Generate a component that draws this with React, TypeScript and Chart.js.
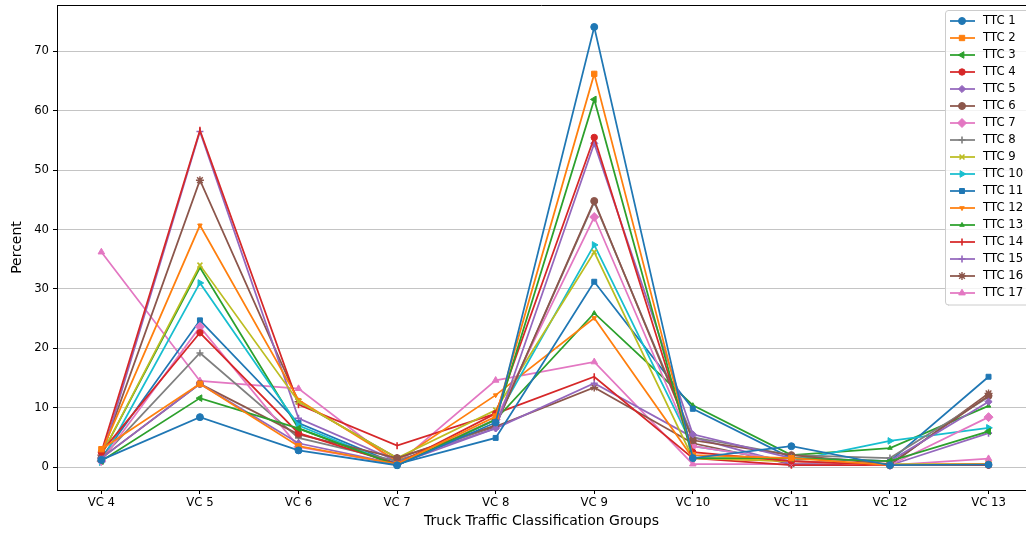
import React, { useEffect, useRef } from 'react';
import { Chart, registerables } from 'chart.js';
import { drawPoint } from 'chart.js/helpers';

Chart.register(...registerables);

// Vehicle class groups on the x axis
const groups = ['VC 4', 'VC 5', 'VC 6', 'VC 7', 'VC 8', 'VC 9', 'VC 10', 'VC 11', 'VC 12', 'VC 13'];

// Percent of trucks per vehicle class, one array per truck traffic classification
const ttc1 = [1.2, 8.4, 2.8, 0.3, 7.5, 74.1, 1.5, 3.5, 0.3, 0.4];
const ttc2 = [3.0, 14.0, 3.5, 0.5, 8.5, 66.2, 2.0, 1.5, 0.3, 0.5];
const ttc3 = [1.0, 11.6, 6.5, 0.3, 8.0, 61.9, 1.5, 1.5, 1.0, 6.0];
const ttc4 = [2.5, 22.6, 5.7, 0.5, 9.0, 55.5, 2.5, 1.0, 0.3, 0.3];
const ttc5 = [1.5, 14.0, 4.0, 0.5, 6.5, 54.5, 5.5, 1.5, 1.0, 11.0];
const ttc6 = [1.5, 14.0, 5.5, 1.5, 7.0, 44.8, 4.5, 2.0, 0.5, 12.0];
const ttc7 = [1.0, 23.6, 3.4, 0.5, 8.0, 42.1, 3.5, 1.0, 0.3, 8.4];
const ttc8 = [1.5, 19.2, 4.9, 1.0, 7.0, 44.6, 5.0, 2.0, 1.5, 11.8];
const ttc9 = [2.0, 34.0, 11.0, 1.5, 9.6, 36.2, 1.5, 1.0, 0.5, 0.5];
const ttc10 = [0.8, 31.0, 7.0, 0.3, 8.0, 37.4, 3.5, 1.0, 4.4, 6.6];
const ttc11 = [1.5, 24.7, 7.4, 0.5, 4.9, 31.2, 9.8, 1.5, 1.0, 15.2];
const ttc12 = [2.5, 40.7, 11.3, 1.0, 12.1, 25.1, 1.5, 1.0, 0.3, 0.5];
const ttc13 = [2.0, 33.6, 6.5, 0.3, 8.0, 25.9, 10.4, 2.0, 3.2, 10.3];
const ttc14 = [2.5, 56.7, 10.5, 3.6, 9.0, 15.2, 1.5, 0.3, 0.3, 0.3];
const ttc15 = [1.5, 56.5, 8.2, 1.0, 6.5, 14.1, 5.0, 0.5, 0.3, 5.7];
const ttc16 = [2.0, 48.3, 11.0, 1.5, 6.8, 13.4, 4.0, 0.5, 0.3, 12.4];
const ttc17 = [36.2, 14.5, 13.2, 0.5, 14.6, 17.7, 0.5, 0.5, 0.3, 1.4];

const seriesNames = [
  'TTC 1', 'TTC 2', 'TTC 3', 'TTC 4', 'TTC 5', 'TTC 6', 'TTC 7', 'TTC 8', 'TTC 9',
  'TTC 10', 'TTC 11', 'TTC 12', 'TTC 13', 'TTC 14', 'TTC 15', 'TTC 16', 'TTC 17',
];
const seriesValues = [
  ttc1, ttc2, ttc3, ttc4, ttc5, ttc6, ttc7, ttc8, ttc9,
  ttc10, ttc11, ttc12, ttc13, ttc14, ttc15, ttc16, ttc17,
];

const yTicks = [0, 10, 20, 30, 40, 50, 60, 70];

const palette = [
  '#1f77b4', '#ff7f0e', '#2ca02c', '#d62728', '#9467bd', '#8c564b', '#e377c2',
  '#7f7f7f', '#bcbd22', '#17becf',
];

type Marker = { style: string; radius: number; rotation: number; border: number };
const markers: Marker[] = [
  { style: 'circle', radius: 3.5, rotation: 0, border: 1 },
  { style: 'rect', radius: 3.8, rotation: 0, border: 1 },
  { style: 'triangle', radius: 3.8, rotation: -90, border: 1 },
  { style: 'circle', radius: 3.2, rotation: 0, border: 1 },
  { style: 'rectRot', radius: 3.6, rotation: 0, border: 1 },
  { style: 'circle', radius: 3.5, rotation: 0, border: 1 },
  { style: 'rectRot', radius: 4.5, rotation: 0, border: 1 },
  { style: 'cross', radius: 3.5, rotation: 0, border: 1.6 },
  { style: 'crossRot', radius: 3.5, rotation: 0, border: 1.6 },
  { style: 'triangle', radius: 3.8, rotation: 90, border: 1 },
  { style: 'rect', radius: 3.5, rotation: 0, border: 1 },
  { style: 'triangle', radius: 2.6, rotation: 180, border: 1 },
  { style: 'triangle', radius: 2.6, rotation: 0, border: 1 },
  { style: 'line', radius: 3.5, rotation: 90, border: 1.6 },
  { style: 'cross', radius: 3.5, rotation: 0, border: 1.6 },
  { style: 'star', radius: 4, rotation: 0, border: 1.4 },
  { style: 'triangle', radius: 3.8, rotation: 0, border: 1 },
];

const FONT = '"DejaVu Sans", sans-serif';

// Legend box in the upper right corner plus the top frame line
const framePlugin = {
  id: 'frameAndLegend',
  afterDatasetsDraw(chart: any) {
    const { ctx, chartArea } = chart;
    ctx.save();
    ctx.strokeStyle = '#000';
    ctx.lineWidth = 1;
    ctx.beginPath();
    ctx.moveTo(chartArea.left, chartArea.top + 0.5);
    ctx.lineTo(chartArea.right, chartArea.top + 0.5);
    ctx.stroke();

    const bx = chartArea.right - 81;
    const by = chartArea.top + 5;
    const bw = 90;
    const rowH = 17;
    const n = chart.data.datasets.length;
    const bh = n * rowH + 6;
    ctx.fillStyle = 'rgba(255,255,255,0.8)';
    ctx.strokeStyle = '#cccccc';
    ctx.beginPath();
    const r = 3;
    ctx.moveTo(bx + r, by + 0.5);
    ctx.lineTo(bx + bw, by + 0.5);
    ctx.lineTo(bx + bw, by + bh);
    ctx.lineTo(bx + r, by + bh);
    ctx.arcTo(bx + 0.5, by + bh, bx + 0.5, by + bh - r, r);
    ctx.lineTo(bx + 0.5, by + r);
    ctx.arcTo(bx + 0.5, by + 0.5, bx + r, by + 0.5, r);
    ctx.closePath();
    ctx.fill();
    ctx.stroke();

    chart.data.datasets.forEach((ds: any, i: number) => {
      const y = by + 11 + rowH * i;
      ctx.strokeStyle = ds.borderColor;
      ctx.lineWidth = ds.borderWidth;
      ctx.beginPath();
      ctx.moveTo(bx + 5, y);
      ctx.lineTo(bx + 30, y);
      ctx.stroke();
      ctx.fillStyle = ds.pointBackgroundColor;
      ctx.strokeStyle = ds.pointBorderColor;
      ctx.lineWidth = ds.pointBorderWidth;
      drawPoint(
        ctx,
        {
          pointStyle: ds.pointStyle,
          radius: ds.pointRadius,
          rotation: ds.pointRotation,
          borderWidth: ds.pointBorderWidth,
        },
        bx + 17,
        y
      );
      ctx.fillStyle = '#000';
      ctx.font = `11.7px ${FONT}`;
      ctx.textBaseline = 'middle';
      ctx.textAlign = 'left';
      ctx.fillText(ds.label, bx + 38, y);
    });
    ctx.restore();
  },
};

export default function App() {
  const canvasRef = useRef<HTMLCanvasElement | null>(null);

  useEffect(() => {
    const canvas = canvasRef.current;
    if (!canvas) return;

    const datasets = seriesValues.map((vals, i) => {
      const color = palette[i % palette.length];
      const m = markers[i];
      return {
        label: seriesNames[i],
        data: vals.map((v, k) => ({ x: k, y: v })),
        borderColor: color,
        backgroundColor: color,
        pointBackgroundColor: color,
        pointBorderColor: color,
        borderWidth: 1.75,
        pointStyle: m.style,
        pointRadius: m.radius,
        pointHoverRadius: m.radius,
        pointRotation: m.rotation,
        pointBorderWidth: m.border,
        tension: 0,
        fill: false,
      };
    });

    const chart = new Chart(canvas, {
      type: 'line',
      data: { datasets },
      plugins: [framePlugin],
      options: {
        animation: false,
        responsive: false,
        devicePixelRatio: 1,
        layout: { autoPadding: false, padding: { top: 5, left: 0, right: 0, bottom: 0 } },
        plugins: {
          legend: { display: false },
          tooltip: { enabled: false },
        },
        scales: {
          x: {
            type: 'linear',
            min: -0.45,
            max: 9.38,
            afterBuildTicks: (s: any) => {
              s.ticks = groups.map((_, k) => ({ value: k }));
            },
            afterFit: (s: any) => {
              s.height = 43;
              s.paddingLeft = 0;
              s.paddingRight = 0;
            },
            ticks: {
              autoSkip: false,
              maxRotation: 0,
              padding: 2,
              color: '#000',
              font: { family: FONT, size: 11.7 },
              callback: (v: any) => groups[Math.round(Number(v))] ?? '',
            },
            grid: {
              drawOnChartArea: false,
              drawTicks: true,
              tickLength: 4,
              tickColor: '#000',
            },
            border: { display: true, color: '#000', width: 1 },
            title: {
              display: true,
              text: 'Truck Traffic Classification Groups',
              color: '#000',
              font: { family: FONT, size: 14 },
              padding: { top: 3.6, bottom: 3.6 },
            },
          },
          y: {
            type: 'linear',
            min: -3.87,
            max: 77.8,
            afterBuildTicks: (s: any) => {
              s.ticks = yTicks.map((v) => ({ value: v }));
            },
            afterFit: (s: any) => {
              s.width = 57;
              s.paddingTop = 0;
              s.paddingBottom = 0;
            },
            ticks: {
              padding: 4,
              color: '#000',
              font: { family: FONT, size: 11.7 },
            },
            grid: {
              color: '#c4c4c4',
              lineWidth: 1,
              drawTicks: true,
              tickLength: 4,
              tickColor: '#000',
            },
            border: { display: true, color: '#000', width: 1 },
            title: {
              display: true,
              text: 'Percent',
              color: '#000',
              font: { family: FONT, size: 14 },
              padding: { top: 8.6, bottom: 8.6 },
            },
          },
        },
      },
    } as any);

    return () => chart.destroy();
  }, []);

  return (
    <div style={{ position: 'absolute', left: 0, top: 0, width: 1026, height: 533, background: '#fff' }}>
      <canvas ref={canvasRef} width={1026} height={533} />
    </div>
  );
}
